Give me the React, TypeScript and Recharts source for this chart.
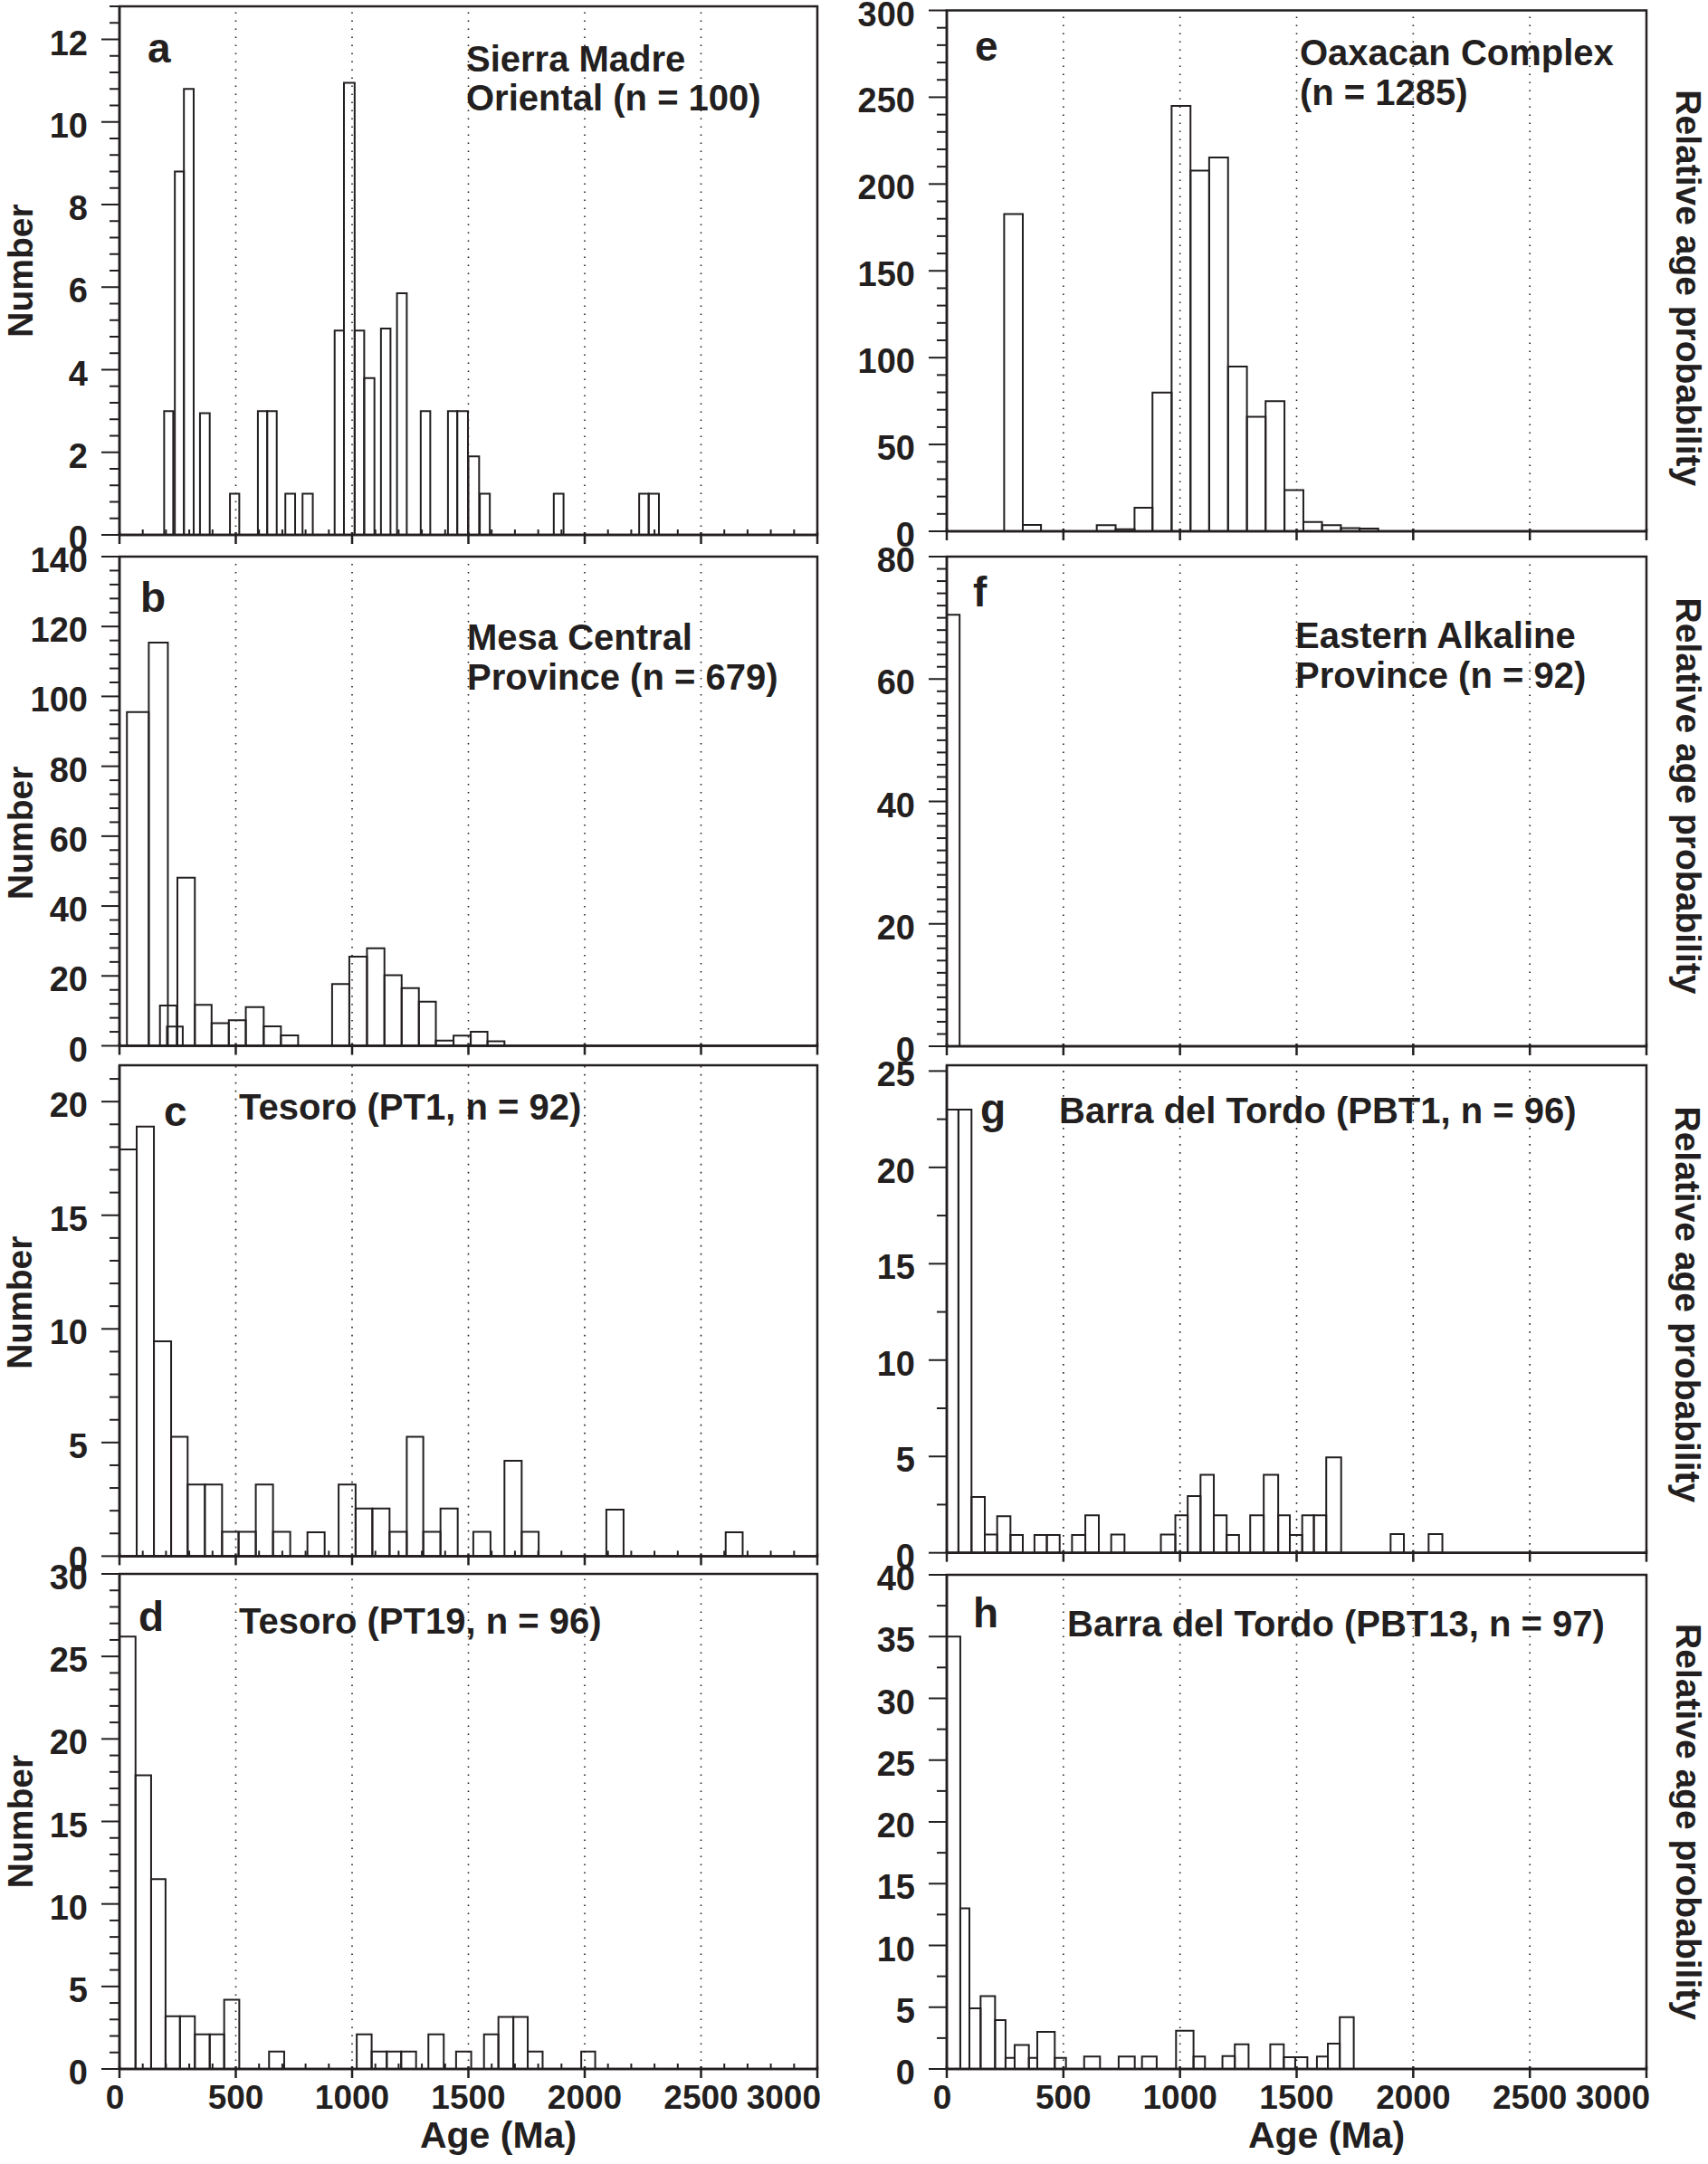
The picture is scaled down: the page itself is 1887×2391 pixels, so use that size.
import React from 'react';
import { ComposedChart, XAxis, YAxis, ReferenceArea, ReferenceLine } from 'recharts';

const INK = '#231f20';
const FONT = '"Liberation Sans", Arial, Helvetica, sans-serif';

// age axis (Ma)
const ageTicks = [
  0, 100, 200, 300, 400, 500, 600, 700, 800, 900, 1000, 1100, 1200, 1300, 1400, 1500,
  1600, 1700, 1800, 1900, 2000, 2100, 2200, 2300, 2400, 2500, 2600, 2700, 2800, 2900, 3000,
];
const ageLabels = [0, 500, 1000, 1500, 2000, 2500, 3000];
const gridAges = [500, 1000, 1500, 2000, 2500];

// histogram bins: [from Ma, to Ma, height]
const binsA = [
  [192, 231, 3.0], [238, 277, 8.8], [277, 319, 10.8], [346, 388, 2.95], [475, 515, 1.0],
  [595, 635, 3.0], [635, 676, 3.0], [713, 755, 1.0], [787, 831, 1.0], [925, 965, 4.95],
  [965, 1011, 10.95], [1011, 1052, 4.95], [1052, 1096, 3.8], [1124, 1165, 5.0], [1193, 1235, 5.85],
  [1295, 1336, 3.0], [1412, 1452, 3.0], [1452, 1498, 3.0], [1500, 1546, 1.9], [1549, 1592, 1.0],
  [1867, 1909, 1.0], [2234, 2275, 1.0], [2275, 2319, 1.0],
];
const binsB = [
  [32, 126, 95.5], [126, 208, 115.4], [174, 246, 11.5], [204, 272, 5.5], [249, 324, 48.1],
  [324, 396, 11.7], [396, 470, 6.5], [470, 543, 7.3], [543, 620, 11.1], [620, 694, 5.6],
  [694, 768, 3.0], [914, 988, 17.7], [988, 1064, 25.5], [1064, 1139, 27.9], [1139, 1213, 20.2],
  [1213, 1287, 16.5], [1287, 1360, 12.6], [1360, 1436, 1.5], [1436, 1510, 2.9], [1510, 1582, 4.0],
  [1582, 1655, 1.3],
];
const binsC = [
  [0, 74, 17.9], [74, 148, 18.9], [148, 222, 9.45], [222, 293, 5.25], [293, 367, 3.15],
  [367, 441, 3.15], [441, 512, 1.07], [512, 586, 1.07], [586, 660, 3.15], [660, 734, 1.07],
  [808, 882, 1.05], [942, 1015, 3.15], [1015, 1087, 2.1], [1087, 1161, 2.1], [1161, 1235, 1.07],
  [1235, 1306, 5.25], [1306, 1380, 1.07], [1380, 1454, 2.1], [1521, 1595, 1.07], [1655, 1729, 4.2],
  [1729, 1802, 1.07], [2093, 2167, 2.05], [2606, 2679, 1.05],
];
const binsD = [
  [0, 69, 26.2], [69, 136, 17.8], [136, 198, 11.5], [198, 260, 3.2], [260, 324, 3.2],
  [324, 388, 2.1], [388, 450, 2.1], [450, 515, 4.2], [643, 708, 1.05], [1020, 1084, 2.1],
  [1084, 1149, 1.05], [1149, 1211, 1.05], [1211, 1275, 1.05], [1328, 1394, 2.1], [1447, 1512, 1.05],
  [1567, 1629, 2.1], [1629, 1693, 3.15], [1693, 1755, 3.15], [1755, 1819, 1.05], [1985, 2045, 1.05],
];
const binsE = [
  [246, 326, 182.7], [326, 404, 3.7], [643, 724, 3.5], [724, 805, 1.2], [805, 882, 13.5],
  [882, 964, 79.9], [964, 1045, 245], [1045, 1125, 207.7], [1125, 1206, 215.3], [1206, 1287, 94.9],
  [1287, 1367, 65.9], [1367, 1448, 74.9], [1448, 1529, 23.7], [1529, 1609, 5.4], [1609, 1690, 3.5],
  [1690, 1770, 1.8], [1770, 1850, 1.6],
];
const binsF = [[0, 55, 70.5]];
const binsG = [
  [0, 50, 23], [50, 106, 23], [106, 163, 2.9], [163, 216, 0.95], [216, 273, 1.9],
  [273, 326, 0.92], [376, 429, 0.92], [429, 484, 0.92], [537, 594, 0.92], [594, 652, 1.95],
  [705, 762, 0.95], [918, 980, 0.95], [980, 1033, 1.95], [1033, 1088, 2.95], [1088, 1145, 4.05],
  [1145, 1200, 1.95], [1200, 1253, 0.92], [1301, 1359, 1.95], [1359, 1421, 4.05], [1421, 1471, 1.95],
  [1471, 1524, 0.92], [1524, 1574, 1.95], [1574, 1627, 1.95], [1627, 1691, 4.95], [1903, 1960, 0.97],
  [2066, 2125, 0.97],
];
const binsH = [
  [0, 58, 35], [58, 97, 13], [97, 145, 4.9], [145, 207, 5.9], [207, 252, 3.95],
  [252, 291, 0.9], [291, 352, 1.95], [352, 388, 0.9], [388, 463, 3.0], [463, 511, 0.9],
  [589, 657, 1.0], [737, 806, 1.0], [837, 900, 1.0], [983, 1058, 3.1], [1058, 1107, 1.0],
  [1182, 1235, 1.05], [1235, 1294, 2.0], [1387, 1445, 2.0], [1445, 1494, 0.95], [1494, 1546, 0.95],
  [1587, 1634, 1.0], [1634, 1685, 2.05], [1685, 1745, 4.2],
];

// count axis labels
const countLabelsA = [0, 2, 4, 6, 8, 10, 12];
const countLabelsB = [0, 20, 40, 60, 80, 100, 120, 140];
const countLabelsC = [0, 5, 10, 15, 20];
const countLabelsD = [0, 5, 10, 15, 20, 25, 30];
const countLabelsE = [0, 50, 100, 150, 200, 250, 300];
const countLabelsF = [0, 20, 40, 60, 80];
const countLabelsG = [0, 5, 10, 15, 20, 25];
const countLabelsH = [0, 5, 10, 15, 20, 25, 30, 35, 40];

const steps = (max: number, step: number) => {
  const out: number[] = [];
  for (let i = 0; i * step <= max + 1e-9; i++) out.push(Math.round(i * step * 1000) / 1000);
  return out;
};

const panels = [
  { col: 0, top: 7, bottom: 591, yMax: 12.8, minor: 0.4, labels: countLabelsA, bins: binsA, ageMinor: true, ageAxis: false, shift: 0 },
  { col: 0, top: 615, bottom: 1155.5, yMax: 140, minor: 4, labels: countLabelsB, bins: binsB, ageMinor: false, ageAxis: false, shift: 35 },
  { col: 0, top: 1177, bottom: 1719.4, yMax: 21.6, minor: 1, labels: countLabelsC, bins: binsC, ageMinor: true, ageAxis: false, shift: -9 },
  { col: 0, top: 1739, bottom: 2286, yMax: 30, minor: 1, labels: countLabelsD, bins: binsD, ageMinor: true, ageAxis: true, shift: 0 },
  { col: 1, top: 11.5, bottom: 587, yMax: 300, minor: 10, labels: countLabelsE, bins: binsE, ageMinor: false, ageAxis: false, shift: 19 },
  { col: 1, top: 615, bottom: 1156, yMax: 80, minor: 2, labels: countLabelsF, bins: binsF, ageMinor: false, ageAxis: false, shift: -6 },
  { col: 1, top: 1177, bottom: 1715.7, yMax: 25.3, minor: 2.5, labels: countLabelsG, bins: binsG, ageMinor: false, ageAxis: false, shift: -5 },
  { col: 1, top: 1740, bottom: 2286, yMax: 40, minor: 2.5, labels: countLabelsH, bins: binsH, ageMinor: false, ageAxis: true, shift: 0 },
];

// panel letters and sample names (page coordinates)
const notes = [
  { letter: 'a', lx: 163, ly: 69, lines: ['Sierra Madre', 'Oriental (n = 100)'], tx: 515, ty: 78.5 },
  { letter: 'b', lx: 155, ly: 676, lines: ['Mesa Central', 'Province (n = 679)'], tx: 516, ty: 718 },
  { letter: 'c', lx: 181, ly: 1244, lines: ['Tesoro (PT1, n = 92)'], tx: 264, ty: 1237 },
  { letter: 'd', lx: 153, ly: 1802, lines: ['Tesoro (PT19, n = 96)'], tx: 264, ty: 1805 },
  { letter: 'e', lx: 1077, ly: 67, lines: ['Oaxacan Complex', '(n = 1285)'], tx: 1436, ty: 72 },
  { letter: 'f', lx: 1075, ly: 670, lines: ['Eastern Alkaline', 'Province (n = 92)'], tx: 1431, ty: 716 },
  { letter: 'g', lx: 1083, ly: 1241, lines: ['Barra del Tordo (PBT1, n = 96)'], tx: 1170, ty: 1241 },
  { letter: 'h', lx: 1075, ly: 1798, lines: ['Barra del Tordo (PBT13, n = 97)'], tx: 1179, ty: 1807.5 },
];

const AgeTick = ({ x, y, payload, minor, labels }: any) => {
  const v = payload.value;
  if (ageLabels.includes(v)) {
    return (
      <g>
        <line x1={x} x2={x} y1={y - 3} y2={y + 10} stroke={INK} strokeWidth={2.5} />
        {labels && (
          <text
            x={v === 3000 ? x + 4 : v === 0 ? x - 5 : x}
            y={y + 44}
            textAnchor={v === 3000 ? 'end' : 'middle'}
            fontFamily={FONT}
            fontWeight="bold"
            fontSize={37}
            fill={INK}
          >
            {v}
          </text>
        )}
      </g>
    );
  }
  if (!minor) return <g />;
  return <line x1={x} x2={x} y1={y} y2={y - 6} stroke={INK} strokeWidth={2} />;
};

const CountTick = ({ x, y, payload, labels }: any) => {
  const v = payload.value;
  const major = labels.some((l: number) => Math.abs(l - v) < 1e-6);
  return (
    <g>
      <line x1={x - (major ? 20 : 11)} x2={x} y1={y} y2={y} stroke={INK} strokeWidth={2} />
      {major && (
        <text x={x - 35} y={y + 17} textAnchor="end" fontFamily={FONT} fontWeight="bold" fontSize={38} fill={INK}>
          {v}
        </text>
      )}
    </g>
  );
};

const SideTitle = ({ viewBox, text, side, shift }: any) => {
  const cx = side === 'left' ? viewBox.x + 22 : viewBox.x + 46;
  const cy = viewBox.y + viewBox.height / 2 + shift;
  return (
    <text
      x={cx}
      y={cy}
      transform={`rotate(${side === 'left' ? -90 : 90}, ${cx}, ${cy})`}
      textAnchor="middle"
      dominantBaseline="central"
      fontFamily={FONT}
      fontWeight="bold"
      fontSize={39}
      fill={INK}
    >
      {text}
    </text>
  );
};

const AgeTitle = ({ viewBox }: any) => (
  <text
    x={viewBox.x + viewBox.width / 2 + 33}
    y={viewBox.y + 87}
    textAnchor="middle"
    fontFamily={FONT}
    fontWeight="bold"
    fontSize={41}
    fill={INK}
  >
    Age (Ma)
  </text>
);

const Panel = ({ p }: { p: (typeof panels)[number] }) => {
  const left = p.col === 0 ? 0 : 930;
  const width = p.col === 0 ? 930 : 957;
  const chartTop = Math.max(0, p.top - 30);
  const axisH = p.ageAxis ? 100 : 20;
  const height = p.bottom - chartTop + axisH + 5;
  const yTicks = steps(p.yMax, p.minor);

  return (
    <div style={{ position: 'absolute', left, top: chartTop }}>
      <ComposedChart
        width={width}
        height={height}
        margin={{ top: p.top - chartTop, right: p.col === 0 ? 27 : 0, bottom: 5, left: 0 }}
      >
        <XAxis
          type="number"
          dataKey="age"
          domain={[0, 3000]}
          allowDataOverflow
          ticks={ageTicks}
          interval={0}
          height={axisH}
          tickSize={0}
          tickMargin={0}
          tickLine={false}
          axisLine={{ stroke: INK, strokeWidth: 2.5 }}
          tick={(tp: any) => <AgeTick {...tp} minor={p.ageMinor} labels={p.ageAxis} />}
          label={p.ageAxis ? (lp: any) => <AgeTitle {...lp} /> : undefined}
        />
        <YAxis
          type="number"
          domain={[0, p.yMax]}
          allowDataOverflow
          ticks={yTicks}
          interval={0}
          width={p.col === 0 ? 132 : 116}
          tickSize={0}
          tickMargin={0}
          tickLine={false}
          axisLine={{ stroke: INK, strokeWidth: 2.5 }}
          tick={(tp: any) => <CountTick {...tp} labels={p.labels} />}
          label={
            p.col === 0
              ? (lp: any) => <SideTitle {...lp} text="Number" side="left" shift={p.shift} />
              : undefined
          }
        />
        {p.col === 1 && (
          <YAxis
            yAxisId="prob"
            orientation="right"
            width={68}
            domain={[0, 1]}
            tick={false}
            tickLine={false}
            axisLine={false}
            label={(lp: any) => <SideTitle {...lp} text="Relative age probability" side="right" shift={p.shift} />}
          />
        )}
        {gridAges.map((a) => (
          <ReferenceLine key={`g${a}`} x={a} stroke={INK} strokeWidth={1.6} strokeDasharray="1.6 7.4" />
        ))}
        {p.bins.map(([from, to, n], i) => (
          <ReferenceArea
            key={`b${i}`}
            x1={from}
            x2={to}
            y1={0}
            y2={n}
            fill="none"
            stroke={INK}
            strokeWidth={2}
            ifOverflow="visible"
          />
        ))}
        <ReferenceArea x1={0} x2={3000} y1={0} y2={p.yMax} fill="none" stroke={INK} strokeWidth={2.5} ifOverflow="visible" />
      </ComposedChart>
    </div>
  );
};

export default function App() {
  return (
    <div
      style={{
        position: 'absolute',
        left: 0,
        top: 0,
        width: 1887,
        height: 2391,
        background: '#fff',
        overflow: 'hidden',
      }}
    >
      {panels.map((p, i) => (
        <Panel key={i} p={p} />
      ))}
      <svg
        width={1887}
        height={2391}
        style={{ position: 'absolute', left: 0, top: 0, pointerEvents: 'none' }}
      >
        {notes.map((n) => (
          <g key={n.letter} fontFamily={FONT} fontWeight="bold" fill={INK}>
            <text x={n.lx} y={n.ly} fontSize={46}>
              {n.letter}
            </text>
            {n.lines.map((line, i) => (
              <text key={i} x={n.tx} y={n.ty + i * 43.5} fontSize={40}>
                {line}
              </text>
            ))}
          </g>
        ))}
      </svg>
    </div>
  );
}
